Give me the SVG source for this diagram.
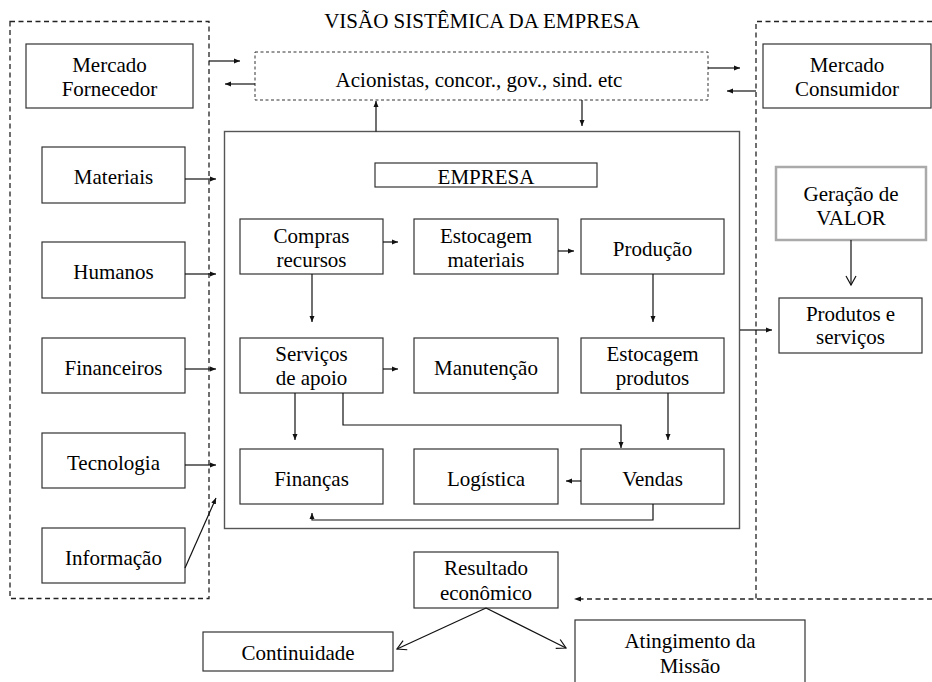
<svg xmlns="http://www.w3.org/2000/svg" width="932" height="682" viewBox="0 0 932 682">
<style>
text{font-family:'Liberation Serif','Times New Roman',serif;font-size:21px;fill:#000;text-anchor:middle}
.box{fill:#fff;stroke:#333;stroke-width:1.2}
.dash{fill:none;stroke:#222;stroke-width:1.3;stroke-dasharray:5,3.5}
.dash2{fill:#fff;stroke:#333;stroke-width:1;stroke-dasharray:3,2.5}
.ca{fill:none;stroke:#111;stroke-width:1.2;marker-end:url(#ah)}
.co{fill:none;stroke:#111;stroke-width:1.2;marker-end:url(#ao)}
</style>
<defs>
<marker id="ah" markerUnits="userSpaceOnUse" markerWidth="7" markerHeight="6" refX="6" refY="3" orient="auto"><path d="M0,0.5 L6,3 L0,5.5 z" fill="#111"/></marker>
<marker id="ao" markerUnits="userSpaceOnUse" markerWidth="12" markerHeight="12" refX="10" refY="6" orient="auto"><path d="M1,1 L10,6 L1,11" fill="none" stroke="#111" stroke-width="1.2"/></marker>
</defs>
<rect width="932" height="682" fill="#fff"/>
<text x="482" y="28">VISÃO SISTÊMICA DA EMPRESA</text>

<g id="left-region"><rect class="dash" x="10" y="21.5" width="199" height="577"/></g>
<g id="right-region"><path class="dash" d="M932,21.5 H756 V599"/></g>

<g id="empresa-outer"><rect x="224.5" y="131.5" width="515" height="397" fill="none" stroke="#555" stroke-width="1.4"/></g>

<g id="acionistas"><rect class="dash2" x="255" y="52" width="453" height="48"/><text x="479" y="87">Acionistas, concor., gov., sind. etc</text></g>

<g id="mercado-fornecedor"><rect class="box" x="26" y="44" width="167" height="64"/><text x="109.5" y="72">Mercado</text><text x="109.5" y="96">Fornecedor</text></g>
<g id="mercado-consumidor"><rect class="box" x="763" y="44" width="168" height="64"/><text x="847" y="72">Mercado</text><text x="847" y="96">Consumidor</text></g>

<g id="materiais"><rect class="box" x="42" y="147" width="143" height="56"/><text x="113.5" y="184">Materiais</text></g>
<g id="humanos"><rect class="box" x="42" y="242" width="143" height="56"/><text x="113.5" y="279">Humanos</text></g>
<g id="financeiros"><rect class="box" x="42" y="338" width="143" height="55"/><text x="113.5" y="375">Financeiros</text></g>
<g id="tecnologia"><rect class="box" x="42" y="433" width="143" height="55"/><text x="113.5" y="470">Tecnologia</text></g>
<g id="informacao"><rect class="box" x="42" y="528" width="143" height="55"/><text x="113.5" y="565">Informação</text></g>

<g id="empresa-label"><rect class="box" x="375" y="163" width="222" height="24"/><text x="486" y="184">EMPRESA</text></g>

<g id="compras"><rect class="box" x="240" y="219" width="143" height="55"/><text x="311.5" y="243">Compras</text><text x="311.5" y="267">recursos</text></g>
<g id="estocagem-materiais"><rect class="box" x="414" y="219" width="144" height="55"/><text x="486" y="243">Estocagem</text><text x="486" y="267">materiais</text></g>
<g id="producao"><rect class="box" x="581" y="219" width="143" height="55"/><text x="652.5" y="256">Produção</text></g>

<g id="servicos"><rect class="box" x="240" y="338" width="143" height="55"/><text x="311.5" y="361">Serviços</text><text x="311.5" y="385">de apoio</text></g>
<g id="manutencao"><rect class="box" x="414" y="338" width="144" height="55"/><text x="486" y="375">Manutenção</text></g>
<g id="estocagem-produtos"><rect class="box" x="581" y="338" width="143" height="55"/><text x="652.5" y="361">Estocagem</text><text x="652.5" y="385">produtos</text></g>

<g id="financas"><rect class="box" x="240" y="449" width="143" height="55"/><text x="311.5" y="486">Finanças</text></g>
<g id="logistica"><rect class="box" x="414" y="449" width="144" height="55"/><text x="486" y="486">Logística</text></g>
<g id="vendas"><rect class="box" x="581" y="449" width="143" height="55"/><text x="652.5" y="486">Vendas</text></g>

<g id="geracao-valor"><rect x="776" y="167" width="150" height="73" fill="#fff" stroke="#aaa" stroke-width="2.5"/><text x="851" y="201">Geração de</text><text x="851" y="225">VALOR</text></g>
<g id="produtos-servicos"><rect class="box" x="779" y="298" width="143" height="55"/><text x="850.5" y="321">Produtos e</text><text x="850.5" y="344">serviços</text></g>

<g id="resultado"><rect class="box" x="414" y="552" width="144" height="56"/><text x="486" y="575">Resultado</text><text x="486" y="600">econômico</text></g>
<g id="continuidade"><rect class="box" x="203" y="632" width="190" height="39"/><text x="298" y="660">Continuidade</text></g>
<g id="atingimento"><rect class="box" x="575" y="620" width="230" height="70"/><text x="690" y="648">Atingimento da</text><text x="690" y="673">Missão</text></g>

<g id="connectors">
<path class="ca" d="M209,61 H240"/>
<path class="ca" d="M255,84 H225"/>
<path class="ca" d="M708,68 H740"/>
<path class="ca" d="M756,91 H727"/>
<path class="ca" d="M376,131.5 V101"/>
<path class="ca" d="M582,100 V126"/>
<path class="ca" d="M185,179 H216"/>
<path class="ca" d="M185,274 H216"/>
<path class="ca" d="M185,369 H216"/>
<path class="ca" d="M185,465 H216"/>
<path class="ca" d="M185,568 L216,498"/>
<path class="ca" d="M383,242 H398"/>
<path class="ca" d="M558,251 H574"/>
<path class="ca" d="M312,274 V322"/>
<path class="ca" d="M653,274 V322"/>
<path class="ca" d="M383,369 H398"/>
<path class="ca" d="M295,393 V440"/>
<path class="ca" d="M343,393 V425 H621 V448"/>
<path class="ca" d="M668,393 V440"/>
<path class="ca" d="M581,481 H566"/>
<path class="ca" d="M653,504 V520 H312 V513"/>
<path class="ca" d="M740,330 H772"/>
<path class="co" d="M851,240 V285"/>
<path class="co" d="M486,608 L397,649"/>
<path class="co" d="M486,608 L566,648"/>
<path class="dash" d="M932,599 H580"/>
<path d="M574,599 L581,596.5 L581,601.5 z" fill="#111"/>
</g>
</svg>
